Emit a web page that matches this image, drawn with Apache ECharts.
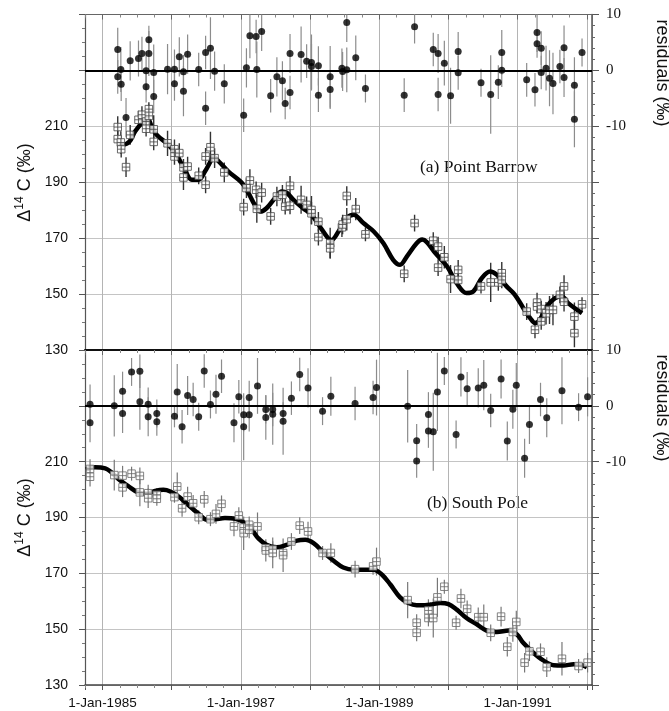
<!DOCTYPE html>
<html>
<head>
<meta charset="utf-8">
<script src="https://cdn.jsdelivr.net/npm/echarts@6/dist/echarts.min.js"></script>
<style>
  html, body { margin: 0; padding: 0; background: #fff; }
  #chart { width: 669px; height: 711px; }
</style>
</head>
<body>
<div id="chart"></div>
<script>
// (a) Point Barrow: sample time (decimal year), delta14C, residual, 1-sigma error
var barrowT = [1985.22,1985.22,1985.265,1985.27,1985.34,1985.40,1985.52,1985.57,1985.63,1985.63,
  1985.67,1985.67,1985.74,1985.74,1985.94,1986.04,1986.04,1986.11,1986.17,1986.17,
  1986.23,1986.39,1986.49,1986.49,1986.56,1986.62,1986.76,1987.04,1987.08,1987.13,
  1987.22,1987.23,1987.30,1987.43,1987.52,1987.60,1987.64,1987.71,1987.71,1987.87,
  1987.95,1988.02,1988.02,1988.12,1988.12,1988.29,1988.29,1988.46,1988.47,1988.53,
  1988.53,1988.66,1988.80,1989.36,1989.51,1989.78,1989.85,1989.94,1989.85,1990.03,
  1990.14,1990.14,1990.47,1990.61,1990.72,1990.77,1990.77,1991.13,1991.25,1991.28,
  1991.28,1991.34,1991.34,1991.41,1991.46,1991.51,1991.61,1991.67,1991.67,1991.82,
  1991.82,1991.93];
var barrowD14C = [209.8,205.5,204.3,201.9,195.5,207,212.4,214.2,211.8,209.2,
  216.2,213.8,209,204.5,204,201.9,199.3,200.5,195.4,191.8,
  195.7,192.4,199.3,189.2,202.6,198.7,193.6,181.2,188,190.7,
  187.4,180.6,186.4,177.9,185,185.6,181.4,188.8,181.7,183.8,
  182,180.2,179,176,170.5,168.3,166.5,174,175,176.9,
  185.2,180.5,171.5,157.4,175.5,169.2,167.1,163.3,159.6,155.5,
  158.8,155.2,152.9,154.3,154.3,157.6,155.2,143.9,137.4,147.1,
  145.7,144.8,140.4,143.3,144.5,144.5,149.9,152.9,147.4,142.1,
  136.2,146.5];
var barrowResid = [3.75,-1.13,0.18,-2.44,-8.4,1.73,2.14,3.04,-0.06,-2.92,
  5.48,3.04,-0.36,-4.64,0.24,0.24,-2.38,2.44,-0.24,-3.69,
  2.92,0.18,3.21,-6.73,3.99,-0.12,-2.38,-7.98,0.48,6.19,
  6.07,0.18,6.96,-4.52,-1.13,-1.85,-5.89,3.04,-3.93,2.86,
  1.67,1.43,0.71,0.83,-4.4,-1.13,-3.39,0.42,-0.18,0.12,
  8.57,2.26,-3.21,-4.4,7.8,3.75,3.04,1.31,-4.29,-4.52,
  3.39,-0.42,-2.2,-4.29,-2.08,3.21,0.06,-1.67,-3.45,6.79,
  4.76,3.99,-0.36,0.42,-1.37,-2.32,0.71,4.05,-1.25,-2.62,
  -8.69,3.21];
var barrowErr = [3.9,3.0,4.0,3.0,3.5,3.5,3.2,3.0,3.5,2.8,
  2.5,4.0,5.0,3.0,4.5,3.5,3.0,3.5,3.0,4.5,
  3.5,3.0,3.0,3.0,5.5,3.5,3.5,3.0,3.5,4.0,
  3.0,5.0,3.5,3.0,3.5,3.5,2.8,3.5,3.0,5.0,
  3.0,5.0,4.0,3.5,3.0,5.5,3.5,3.5,3.5,4.0,
  3.5,4.0,2.5,3.0,3.0,3.0,3.5,4.0,3.0,5.0,
  3.5,3.0,2.5,7.0,3.0,4.0,3.0,3.0,3.0,3.5,
  2.5,3.0,3.0,4.0,5.0,5.5,3.0,4.0,3.5,5.0,
  5.0,2.5];
// fitted curve for Point Barrow
var barrowFitT = [1985.24,1985.30,1985.39,1985.47,1985.57,1985.66,1985.71,1985.785,1985.95,1986.07,
  1986.19,1986.29,1986.39,1986.48,1986.56,1986.60,1986.68,1986.82,1987.01,1987.11,
  1987.20,1987.28,1987.37,1987.49,1987.59,1987.66,1987.76,1987.90,1988.02,1988.14,
  1988.26,1988.31,1988.41,1988.53,1988.63,1988.77,1988.92,1989.06,1989.20,1989.30,
  1989.40,1989.54,1989.62,1989.69,1989.81,1989.98,1990.12,1990.26,1990.36,1990.48,
  1990.60,1990.70,1990.84,1990.96,1991.08,1991.18,1991.25,1991.32,1991.42,1991.54,
  1991.64,1991.73,1991.86,1991.93];
var barrowFit = [203.8,203.5,204.6,208.2,211.2,212.4,210,207,203.5,199.9,
  194.5,191,191,193.9,197.5,199.3,197.5,193.9,190,186.2,
  182.0,179.6,180.8,184.4,186.8,186.4,183.8,180.8,178.5,174.3,
  170.1,169.5,172.5,177.3,178.5,175.5,172.5,168.3,162.4,160.6,
  163.6,168.3,169.6,168.6,164.8,160,154,150.5,151.1,155.8,
  158.2,157,152.9,149.9,145.2,141.6,139.8,141,145.7,148.7,
  149.3,146.9,144.5,143.3];

// (b) South Pole
var southT = [1984.82,1984.82,1985.17,1985.29,1985.29,1985.42,1985.54,1985.54,1985.66,1985.66,
  1985.785,1985.785,1986.04,1986.08,1986.15,1986.23,1986.31,1986.39,1986.47,1986.56,
  1986.64,1986.72,1986.90,1986.97,1987.04,1987.04,1987.12,1987.12,1987.24,1987.36,
  1987.36,1987.46,1987.46,1987.61,1987.61,1987.73,1987.85,1987.97,1988.18,1988.30,
  1988.65,1988.91,1988.96,1989.41,1989.54,1989.54,1989.71,1989.71,1989.78,1989.84,
  1989.94,1990.11,1990.18,1990.27,1990.43,1990.51,1990.61,1990.76,1990.85,1990.93,
  1990.98,1991.10,1991.17,1991.33,1991.42,1991.64,1991.88,1992.01];
var southD14C = [207.4,204.6,205.2,205,200.8,205.7,204.9,199,198.7,196.9,
  198.1,196.7,197.3,201.1,193.3,197.5,195.1,190.1,196.5,189.4,
  191.3,194.9,186.8,190.7,186.4,184.4,187.4,185.6,186.8,179,
  178.2,178.5,177.3,177.3,176.5,181.4,187.1,185,177.3,177.3,
  171.5,172.5,174.2,160.4,152.3,148.7,156.7,154,154,161.4,
  165.2,152.3,161,157.3,154.3,154.3,148.7,154.5,143.7,149,
  152.6,138,142.1,141.9,136.4,139.4,136.8,138];
var southResid = [0.3,-3.04,0,2.62,-1.37,6.07,6.19,0.71,0.3,-1.96,
  -1.37,-2.86,-1.85,2.5,-3.75,1.85,1.13,-1.96,6.25,0.24,
  2.08,5.3,-3.04,1.61,-1.61,-3.75,1.49,-1.61,3.57,-0.65,
  -2.08,-0.65,-1.49,-1.37,-2.74,1.37,5.6,3.21,-0.95,1.73,
  0.42,1.49,3.27,-0.06,-6.25,-9.88,-1.55,-4.52,-4.64,2.5,
  6.25,-5.12,5.18,3.04,3.21,3.69,-0.83,4.82,-6.31,-0.6,
  3.69,-9.4,-3.33,1.13,-2.14,2.68,-0.24,1.61];
var southErr = [3.5,3.5,5.5,3.5,3.5,2.5,3,5,3,3.5,
  2.5,2.5,2,5,3,3.5,3,2.5,3,2.5,
  3.5,3,3.5,3,3,6,3,3,5,2.5,
  4,3,5.5,2,6,3,3,3.5,2.5,3.5,
  3,3,5,6.5,3,3,4,3,7,7,
  2.5,2.5,3.5,3,3.5,4.5,3,3.5,3.5,3.5,
  4,3.5,3.5,3,3.5,6,2.5,3.5];
// fitted curve for South Pole
var southFitT = [1984.76,1984.89,1985.04,1985.13,1985.23,1985.38,1985.52,1985.64,1985.76,1985.88,
  1985.98,1986.10,1986.24,1986.39,1986.51,1986.63,1986.77,1986.92,1987.06,1987.18,
  1987.25,1987.37,1987.52,1987.66,1987.81,1987.93,1988.05,1988.19,1988.34,1988.48,
  1988.63,1988.77,1988.92,1989.04,1989.16,1989.30,1989.42,1989.54,1989.66,1989.74,
  1989.88,1990.00,1990.12,1990.26,1990.41,1990.55,1990.70,1990.87,1990.99,1991.08,
  1991.23,1991.37,1991.52,1991.66,1991.81,1991.93,1992.00];
var southFit = [207.2,208,207.6,206.2,203.8,201.1,198.9,198.5,199.5,199.9,
  199.3,197.5,194.5,191.3,189.2,189.4,189.8,189.5,188,184.9,
  182.6,180.2,179.3,180.2,181.7,182,180.8,177.6,174.5,172.1,
  171.3,171.3,171.3,169.5,166,161.4,159.4,158.6,158.6,158.8,
  159.4,159,157,154,151.7,149.5,149,149.5,148.1,145.1,
  141.5,138.8,137.1,137,137.4,137.1,136.4];

// x axis tick labels (only odd years are labelled)
var yearLabels = [1985, 1987, 1989, 1991];

var sans = "'Liberation Sans', Arial, sans-serif";
var serif = "'Liberation Serif', 'Times New Roman', serif";
var squareSymbol = "path://M0,0L10,0L10,10L0,10Z M5,0L5,10 M0,5L10,5";

function zip(t, v) {
  return t.map(function (x, i) { return [x, v[i]]; });
}
function errData(t, v, e) {
  return t.map(function (x, i) { return [x, v[i] - e[i], v[i] + e[i]]; });
}
function errSeries(data, xi, yi, color, width) {
  return {
    type: "custom",
    xAxisIndex: xi,
    yAxisIndex: yi,
    clip: true,
    silent: true,
    encode: { x: 0, y: [1, 2] },
    data: data,
    z: 2,
    renderItem: function (params, api) {
      var p1 = api.coord([api.value(0), api.value(1)]);
      var p2 = api.coord([api.value(0), api.value(2)]);
      return {
        type: "line",
        shape: { x1: p1[0], y1: p1[1], x2: p2[0], y2: p2[1] },
        style: { stroke: color, lineWidth: width }
      };
    }
  };
}

var xMin = 1984.747, xMax = 1992.074;

function xAxisBase(grid, pos) {
  return {
    type: "value",
    gridIndex: grid,
    position: pos,
    min: xMin,
    max: xMax,
    splitNumber: 7,
    axisLine: { show: true, onZero: false, lineStyle: { color: "#666", width: 1.2 } },
    axisTick: { show: true, inside: true, length: 5, lineStyle: { color: "#666" } },
    minorTick: { show: true, splitNumber: 4, length: 3, lineStyle: { color: "#888" } },
    axisLabel: { show: false },
    splitLine: { show: false }
  };
}

function deltaAxis(grid) {
  return {
    type: "value",
    gridIndex: grid,
    position: "left",
    min: 130,
    max: 250,
    interval: 20,
    name: "{a|Δ}{s|14}{a| C (‰)}",
    nameLocation: "middle",
    nameGap: 48,
    nameRotate: 90,
    nameTextStyle: {
      rich: {
        a: { fontFamily: sans, fontSize: 18, color: "#111", lineHeight: 22 },
        s: { fontFamily: sans, fontSize: 12, color: "#111", lineHeight: 22, verticalAlign: "top" }
      }
    },
    axisLine: { show: true, lineStyle: { color: "#555", width: 1.2 } },
    axisTick: { show: true, length: 6, lineStyle: { color: "#555" } },
    minorTick: { show: true, splitNumber: 4, length: 3, lineStyle: { color: "#777" } },
    axisLabel: {
      margin: 17,
      fontFamily: sans,
      fontSize: 14,
      color: "#111",
      formatter: function (v) { return v <= 210 ? String(v) : ""; }
    },
    splitLine: { show: true, lineStyle: { color: "#c4c4c4", width: 1 } }
  };
}

function residAxis(grid) {
  return {
    type: "value",
    gridIndex: grid,
    position: "right",
    min: -50,
    max: 10,
    interval: 10,
    axisLine: { show: true, lineStyle: { color: "#555", width: 1.5 } },
    axisTick: { show: true, length: 7, lineStyle: { color: "#555" } },
    minorTick: { show: true, splitNumber: 5, length: 3, lineStyle: { color: "#666" } },
    axisLabel: {
      margin: 14,
      fontFamily: serif,
      fontSize: 15,
      color: "#111",
      formatter: function (v) { return v >= -10 ? String(v) : ""; }
    },
    splitLine: { show: false }
  };
}

var xTop = xAxisBase(0, "top");
var xBottom = xAxisBase(1, "bottom");
xBottom.axisTick = { show: true, inside: false, length: 5, lineStyle: { color: "#555" } };
xBottom.axisLine.lineStyle = { color: "#444", width: 1.5 };
xBottom.axisLabel = {
  show: true,
  margin: 11,
  fontFamily: sans,
  fontSize: 13.5,
  color: "#111",
  formatter: function (v) {
    var y = Math.round(v);
    if (Math.abs(v - y) > 1e-6) return "";
    return yearLabels.indexOf(y) >= 0 ? "1-Jan-" + y : "";
  }
};
// year grid lines in both panels
xTop.splitLine = { show: true, lineStyle: { color: "#b4b4b4", width: 1 } };
xBottom.splitLine = { show: true, lineStyle: { color: "#b4b4b4", width: 1 } };
// divider between the two panels
var xDivider = xAxisBase(1, "top");
xDivider.axisLine.lineStyle = { color: "#111", width: 2 };

var zeroLine = {
  silent: true,
  symbol: "none",
  label: { show: false },
  lineStyle: { color: "#000", width: 2, type: "solid" },
  data: [{ yAxis: 0 }]
};

var option = {
  animation: false,
  backgroundColor: "#fff",
  grid: [
    { left: 85, top: 14.5, width: 507, height: 336 },
    { left: 85, top: 350, width: 507, height: 335 }
  ],
  xAxis: [xTop, xBottom, xDivider],
  yAxis: [deltaAxis(0), residAxis(0), deltaAxis(1), residAxis(1)],
  graphic: [
    {
      type: "text", left: 420, top: 158,
      style: { text: "(a) Point Barrow", font: "17.5px " + serif, fill: "#111" }
    },
    {
      type: "text", left: 427, top: 494,
      style: { text: "(b) South Pole", font: "17.5px " + serif, fill: "#111" }
    },
    {
      type: "text", x: 662, y: 73, rotation: -Math.PI / 2,
      style: { text: "residuals (‰)", font: "18px " + sans, fill: "#111", align: "center", verticalAlign: "middle" }
    },
    {
      type: "text", x: 662, y: 408, rotation: -Math.PI / 2,
      style: { text: "residuals (‰)", font: "18px " + sans, fill: "#111", align: "center", verticalAlign: "middle" }
    }
  ],
  series: [
    // Point Barrow
    errSeries(errData(barrowT, barrowResid, barrowErr), 0, 1, "#8c8c8c", 1.2),
    errSeries(errData(barrowT, barrowD14C, barrowErr), 0, 0, "#333", 1.4),
    {
      type: "line", xAxisIndex: 0, yAxisIndex: 0, data: zip(barrowFitT, barrowFit),
      smooth: 0.35, showSymbol: false, z: 3,
      lineStyle: { color: "#000", width: 4.5 }
    },
    {
      type: "scatter", xAxisIndex: 0, yAxisIndex: 0, data: zip(barrowT, barrowD14C),
      symbol: squareSymbol, symbolSize: 7.5, z: 4,
      itemStyle: { color: "#fff", borderColor: "#444", borderWidth: 1 }
    },
    {
      type: "scatter", xAxisIndex: 0, yAxisIndex: 1, data: zip(barrowT, barrowResid),
      symbol: "circle", symbolSize: 7, z: 4,
      itemStyle: { color: "#000" },
      markLine: zeroLine
    },
    // South Pole
    errSeries(errData(southT, southResid, southErr), 1, 3, "#8c8c8c", 1.2),
    errSeries(errData(southT, southD14C, southErr), 1, 2, "#777", 1.2),
    {
      type: "line", xAxisIndex: 1, yAxisIndex: 2, data: zip(southFitT, southFit),
      smooth: 0.35, showSymbol: false, z: 3,
      lineStyle: { color: "#000", width: 4.5 }
    },
    {
      type: "scatter", xAxisIndex: 1, yAxisIndex: 2, data: zip(southT, southD14C),
      symbol: squareSymbol, symbolSize: 7.5, z: 4,
      itemStyle: { color: "#fff", borderColor: "#666", borderWidth: 1 }
    },
    {
      type: "scatter", xAxisIndex: 1, yAxisIndex: 3, data: zip(southT, southResid),
      symbol: "circle", symbolSize: 7, z: 4,
      itemStyle: { color: "#000" },
      markLine: zeroLine
    }
  ]
};

var myChart = echarts.init(document.getElementById("chart"), null, { renderer: "canvas" });
myChart.setOption(option);
</script>
</body>
</html>
